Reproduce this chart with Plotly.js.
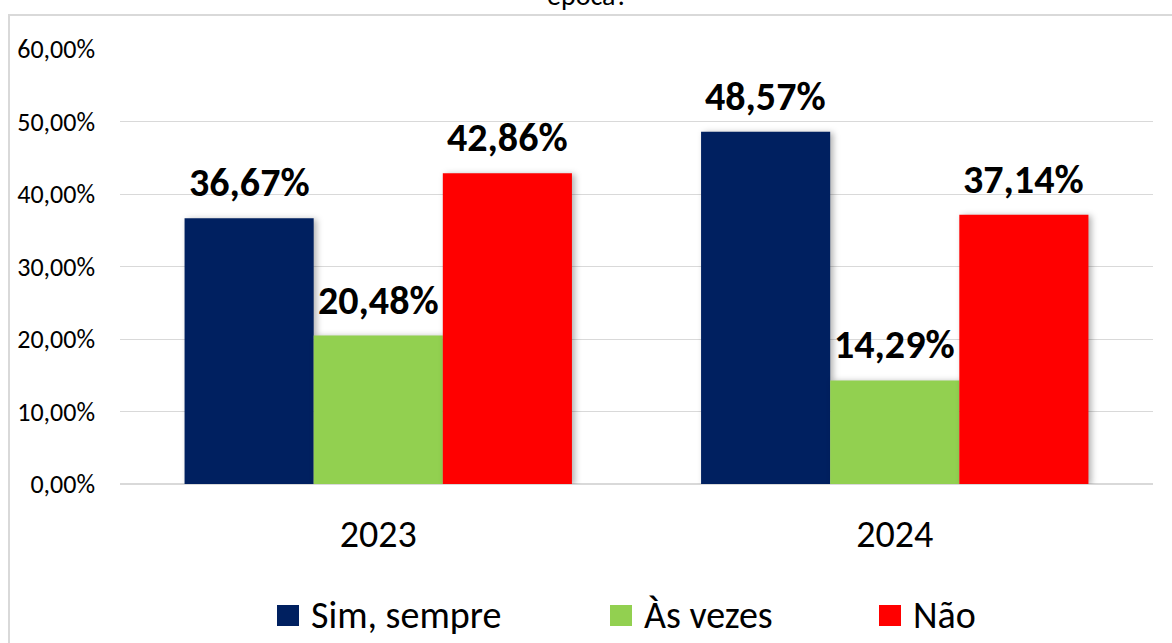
<!DOCTYPE html>
<html>
<head>
<meta charset="utf-8">
<script src="https://cdn.plot.ly/plotly-3.0.1.min.js"></script>
<style>
  html, body { margin: 0; padding: 0; background: #fff; }
  #chart { width: 1172px; height: 643px; }
  #chart .barlayer .point path { filter: drop-shadow(3px 1px 3px rgba(0,0,0,0.30)); }
</style>
</head>
<body>
<div id="chart"></div>
<script>
const categories = ['2023', '2024'];
const seriesNames = ['Sim, sempre', 'Às vezes', 'Não'];
const simSempre = [36.67, 48.57];
const asVezes = [20.48, 14.29];
const nao = [42.86, 37.14];
const yTicks = [0, 10, 20, 30, 40, 50, 60];
const titleText = 'época?';

const colors = ['#002060', '#92D050', '#FF0000'];
const seriesValues = [simSempre, asVezes, nao];
const FONT = 'Carlito, Calibri, "Noto Sans", sans-serif';
const fmt = v => v.toFixed(2).replace('.', ',') + '%';

const W = 1172, H = 643;
const M = { l: 120, r: 19, t: 49, b: 159 };
const plotW = W - M.l - M.r, plotH = H - M.t - M.b;
const BARGAP = 0.25;
const px = x => (x - M.l) / plotW;          // pixel x -> paper
const py = y => (H - M.b - y) / plotH;      // pixel y -> paper

const traces = seriesValues.map((vals, i) => ({
  type: 'bar',
  name: seriesNames[i],
  x: categories,
  y: vals,
  marker: { color: colors[i] },
  showlegend: false,
  hoverinfo: 'skip'
}));

const shapes = [];
const annotations = [];

// data labels above each bar (x = category index on the category axis)
const barW = (plotW / categories.length) * (1 - BARGAP) / seriesValues.length;
seriesValues.forEach((vals, i) => {
  vals.forEach((v, j) => {
    annotations.push({
      xref: 'x', yref: 'y', x: j, y: v,
      xshift: (i - (seriesValues.length - 1) / 2) * barW,
      yshift: 9, yanchor: 'bottom', xanchor: 'center', showarrow: false,
      text: fmt(v),
      font: { family: FONT, size: 40, color: '#000', weight: 'bold' }
    });
  });
});

// legend built manually (large squares like the reference)
const legendSq = [277, 610, 879];
seriesNames.forEach((n, i) => {
  const sx = legendSq[i];
  shapes.push({
    type: 'rect', xref: 'paper', yref: 'paper',
    x0: px(sx), x1: px(sx + 22), y0: py(626), y1: py(605),
    fillcolor: colors[i], line: { width: 0 }
  });
  annotations.push({
    xref: 'paper', yref: 'paper', x: px(sx + 32), y: py(615),
    xanchor: 'left', yanchor: 'middle', showarrow: false,
    text: n, font: { family: FONT, size: 38, color: '#000' }
  });
});
// outer border box
shapes.push({
  type: 'rect', xref: 'paper', yref: 'paper',
  x0: px(9), x1: px(1200), y0: py(700), y1: py(15),
  line: { color: '#d9d9d9', width: 2 }, fillcolor: 'rgba(0,0,0,0)', layer: 'below'
});
annotations.push({
  xref: 'paper', yref: 'paper', x: px(587), y: py(-4),
  xanchor: 'center', yanchor: 'middle', showarrow: false,
  text: titleText, font: { family: FONT, size: 28, color: '#000' }
});

const layout = {
  width: W, height: H,
  margin: M,
  paper_bgcolor: '#fff', plot_bgcolor: '#fff',
  barmode: 'group',
  bargap: BARGAP,
  bargroupgap: 0,
  separators: ',.',
  font: { family: FONT, color: '#000' },
  xaxis: {
    type: 'category',
    categoryarray: categories,
    range: [-0.5, categories.length - 0.5],
    showgrid: false, zeroline: false, showline: false,
    ticks: '', ticklabelstandoff: 24,
    tickfont: { family: FONT, size: 38, color: '#000' }
  },
  yaxis: {
    range: [0, 60],
    tickmode: 'array',
    tickvals: yTicks,
    ticktext: yTicks.map(fmt),
    showgrid: true, gridcolor: '#d9d9d9', gridwidth: 1,
    zeroline: true, zerolinecolor: '#d9d9d9', zerolinewidth: 2,
    showline: false, ticks: '', ticklabelstandoff: 24,
    tickfont: { family: FONT, size: 26, color: '#000' }
  },
  shapes: shapes,
  annotations: annotations,
  showlegend: false
};

Plotly.newPlot('chart', traces, layout, { displayModeBar: false, staticPlot: true });
</script>
</body>
</html>
